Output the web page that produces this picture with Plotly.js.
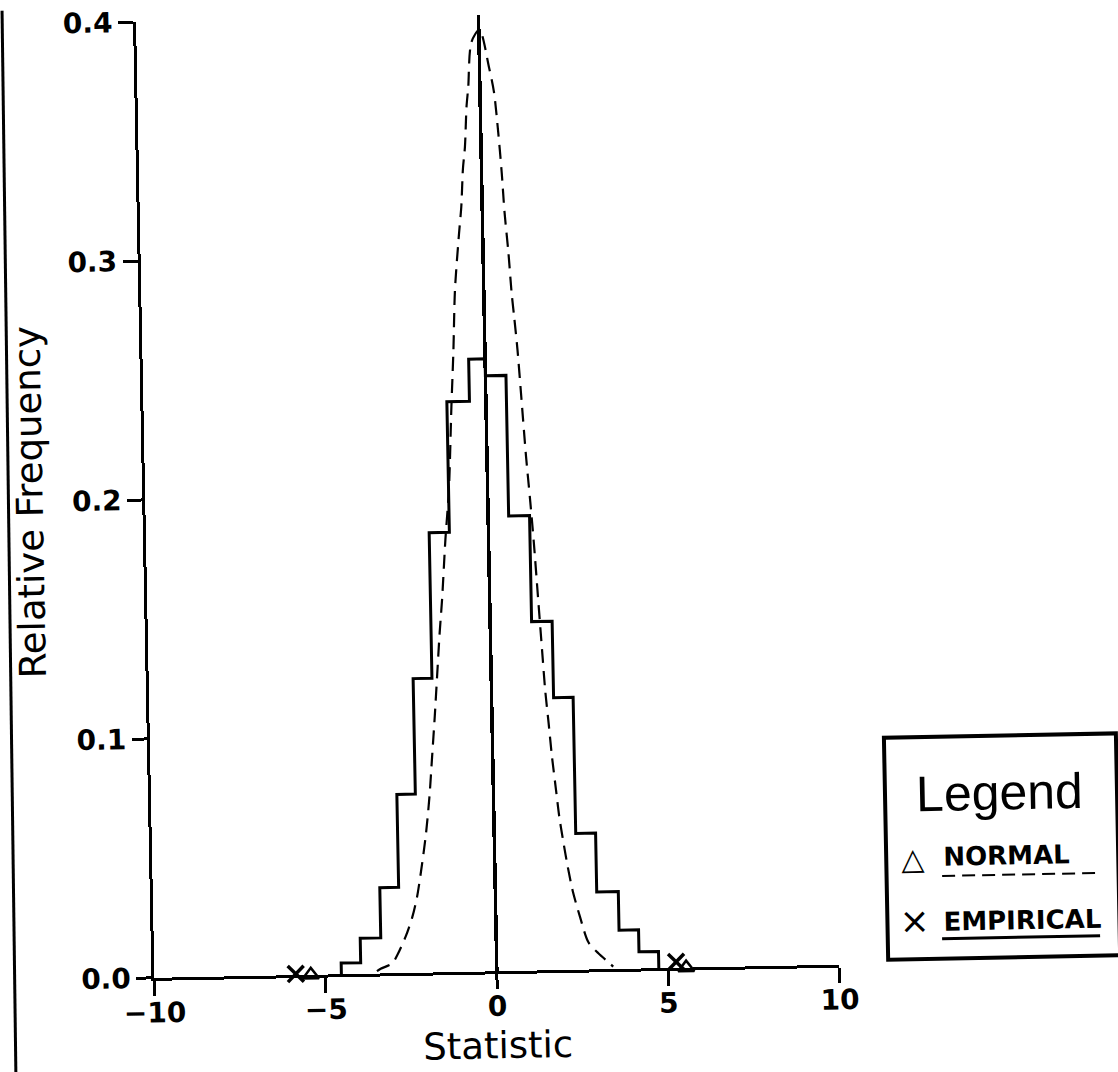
<!DOCTYPE html>
<html>
<head>
<meta charset="utf-8">
<script src="https://cdn.plot.ly/plotly-3.0.1.min.js"></script>
<style>
  html, body { margin: 0; padding: 0; background: #ffffff; overflow: hidden; }
  #chart {
    width: 1118px; height: 1072px;
    transform: rotate(-1.1deg);
    transform-origin: 559px 536px;
  }
</style>
</head>
<body>
<div id="chart"></div>
<script>
// Empirical histogram: bin edges and relative frequency of each bin
const binEdges = [-4.54, -3.97, -3.37, -2.82, -2.28, -1.73, -1.14, -0.48, 0.0,
                  0.60, 1.21, 1.81, 2.38, 2.96, 3.59, 4.16, 4.73];
const empiricalFreq = [0.0047, 0.0149, 0.0359, 0.0748, 0.1231, 0.1840, 0.2387, 0.2563,
                       0.2492, 0.1904, 0.1460, 0.1140, 0.0570, 0.0324, 0.0162, 0.0070];

// Normal reference density
const normalX = [-3.50, -3.39, -3.05, -2.90, -2.65, -2.44, -2.29, -2.12, -1.99, -1.87,
                 -1.77, -1.67, -1.58, -1.48, -1.39, -1.26, -1.13, -1.01, -0.92, -0.84,
                 -0.69, -0.61, -0.54, -0.47, -0.40, -0.34, -0.22, 0.02, 0.28, 0.41,
                 0.51, 0.59, 0.65, 0.74, 0.81, 0.87, 0.95, 1.04, 1.14, 1.24,
                 1.32, 1.41, 1.50, 1.57, 1.65, 1.73, 1.83, 1.91, 2.02, 2.13,
                 2.26, 2.46, 2.69, 2.98, 3.31, 3.40];
const normalY = [0.0010, 0.0020, 0.0041, 0.0075, 0.0150, 0.0232, 0.0316, 0.0457, 0.0583, 0.0735,
                 0.0902, 0.1070, 0.1237, 0.1420, 0.1560, 0.1810, 0.2018, 0.2366, 0.2600, 0.2855,
                 0.3090, 0.3200, 0.3360, 0.3450, 0.3620, 0.3700, 0.3890, 0.3940, 0.3780, 0.3677,
                 0.3510, 0.3340, 0.3175, 0.3007, 0.2840, 0.2740, 0.2600, 0.2390, 0.2153, 0.1960,
                 0.1790, 0.1565, 0.1340, 0.1170, 0.1035, 0.0893, 0.0752, 0.0640, 0.0530, 0.0430,
                 0.0330, 0.0220, 0.0114, 0.0066, 0.0023, 0.0010];

// Extreme values marked by each distribution
const normalMarkX = [-5.43, 5.53];
const normalMarkY = [0.0, 0.0];
const empiricalMarkX = [-5.87, 5.24];
const empiricalMarkY = [0.0005, 0.0025];

// Axis ticks
const xTicks = [-10, -5, 0, 5, 10];
const yTicks = [0.0, 0.1, 0.2, 0.3, 0.4];

const ink = '#000000';
const tickFont = { family: 'DejaVu Sans', size: 28, color: ink, weight: 'bold' };
const titleFont = { family: 'DejaVu Sans', size: 37, color: ink };

// Step outline of the histogram: rises from the axis at the first edge, returns at the last
const stepX = [binEdges[0]].concat(binEdges);
const stepY = [0].concat(empiricalFreq, [0]);

const traces = [
  {
    x: stepX, y: stepY, type: 'scatter', mode: 'lines',
    line: { shape: 'hv', color: ink, width: 3 },
    hoverinfo: 'skip', showlegend: false
  },
  {
    x: normalX, y: normalY, type: 'scatter', mode: 'lines',
    line: { shape: 'spline', smoothing: 0.8, color: ink, width: 2.2, dash: '14px,8px' },
    hoverinfo: 'skip', showlegend: false
  },
  {
    x: normalMarkX, y: normalMarkY, type: 'scatter', mode: 'markers', cliponaxis: false,
    marker: { symbol: 'triangle-up-open', size: 14, color: ink, line: { width: 2.5, color: ink } },
    hoverinfo: 'skip', showlegend: false
  },
  {
    x: empiricalMarkX, y: empiricalMarkY, type: 'scatter', mode: 'markers', cliponaxis: false,
    marker: { symbol: 'x-thin-open', size: 16, color: ink, line: { width: 3.5, color: ink } },
    hoverinfo: 'skip', showlegend: false
  }
];

const layout = {
  width: 1118, height: 1072,
  margin: { l: 146, r: 287, t: 14, b: 102 },
  paper_bgcolor: '#ffffff', plot_bgcolor: '#ffffff',
  showlegend: false,
  xaxis: {
    range: [-10, 10], tickvals: xTicks, ticks: 'outside', ticklen: 15, tickwidth: 3, tickcolor: ink,
    showline: true, linewidth: 3, linecolor: ink, showgrid: false,
    zeroline: true, zerolinewidth: 3.5, zerolinecolor: ink,
    tickfont: tickFont, ticklabelstandoff: -7, ticklabeloverflow: 'allow',
    title: { text: 'Statistic', font: titleFont, standoff: 11 }
  },
  yaxis: {
    range: [0, 0.4], tickvals: yTicks, tickformat: '.1f', ticks: 'outside', ticklen: 15, tickwidth: 3, tickcolor: ink,
    showline: true, linewidth: 3, linecolor: ink, showgrid: false, zeroline: false,
    tickfont: tickFont, ticklabelstandoff: 0, ticklabeloverflow: 'allow',
    title: { text: 'Relative Frequency', font: titleFont, standoff: 18 }
  },
  shapes: [
    // legend frame
    { type: 'rect', xref: 'paper', yref: 'paper', x0: 1.0715, x1: 1.4102, y0: 0.0042, y1: 0.2364,
      line: { color: ink, width: 4 }, fillcolor: 'rgba(0,0,0,0)' },
    // NORMAL sample line
    { type: 'line', xref: 'paper', yref: 'paper', x0: 1.1526, x1: 1.3759, y0: 0.0907, y1: 0.0907,
      line: { color: ink, width: 2, dash: '13px,7px' } },
    // EMPIRICAL sample line
    { type: 'line', xref: 'paper', yref: 'paper', x0: 1.1508, x1: 1.3815, y0: 0.0251, y1: 0.0251,
      line: { color: ink, width: 3 } },
    // page edge rule
    { type: 'line', xref: 'paper', yref: 'paper', x0: -0.1950, x1: -0.2052, y0: 1.046, y1: -0.136,
      line: { color: ink, width: 3 } }
  ],
  annotations: [
    { xref: 'paper', yref: 'paper', x: 1.2380, y: 0.1768, xanchor: 'center', yanchor: 'middle',
      text: 'Legend', showarrow: false, font: { family: 'Liberation Sans', size: 50, color: ink } },
    { xref: 'paper', yref: 'paper', x: 1.1107, y: 0.1090, xanchor: 'center', yanchor: 'middle',
      text: '\u25B3', showarrow: false, font: { family: 'DejaVu Sans', size: 30, color: ink } },
    { xref: 'paper', yref: 'paper', x: 1.1518, y: 0.1104, xanchor: 'left', yanchor: 'middle',
      text: 'NORMAL', showarrow: false, font: { family: 'DejaVu Sans', size: 26, color: ink, weight: 'bold' } },
    { xref: 'paper', yref: 'paper', x: 1.1104, y: 0.0447, xanchor: 'center', yanchor: 'middle',
      text: '\u00D7', showarrow: false, font: { family: 'DejaVu Sans', size: 36, color: ink } },
    { xref: 'paper', yref: 'paper', x: 1.1504, y: 0.0430, xanchor: 'left', yanchor: 'middle',
      text: 'EMPIRICAL', showarrow: false, font: { family: 'DejaVu Sans', size: 26, color: ink, weight: 'bold' } }
  ]
};

Plotly.newPlot('chart', traces, layout, { staticPlot: true, displayModeBar: false });
</script>
</body>
</html>
